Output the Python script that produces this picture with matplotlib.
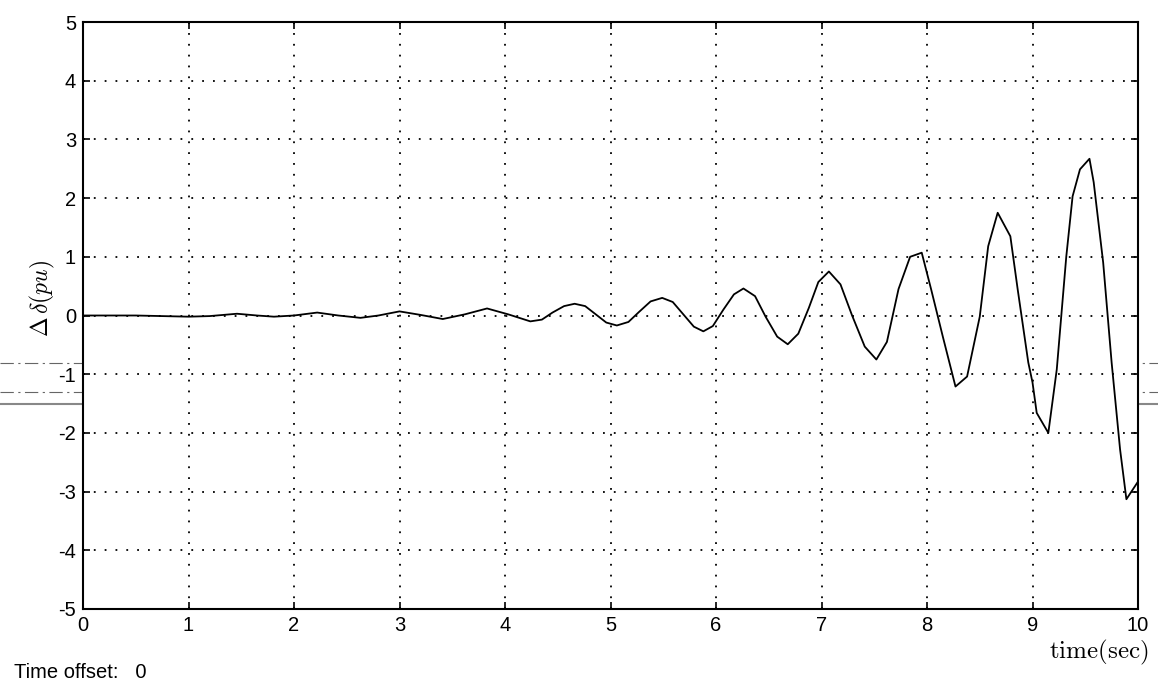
import matplotlib
matplotlib.use("Agg")
import matplotlib.pyplot as plt
from matplotlib.lines import Line2D

plt.rcParams["mathtext.fontset"] = "cm"

# ---- data ----
time_s = [0, 0.5, 1.0, 1.2, 1.46, 1.65, 1.81, 2.0, 2.22, 2.42, 2.63, 2.8, 3.0, 3.2,
          3.41, 3.62, 3.83, 4.03, 4.24, 4.35, 4.45, 4.56, 4.66, 4.76, 4.86, 4.96,
          5.06, 5.17, 5.27, 5.38, 5.49, 5.59, 5.69, 5.79, 5.88, 5.97, 6.07, 6.17,
          6.26, 6.37, 6.47, 6.58, 6.68, 6.78, 6.88, 6.97, 7.07, 7.18, 7.29, 7.41,
          7.52, 7.62, 7.73, 7.84, 7.95, 8.04, 8.15, 8.27, 8.38, 8.5, 8.58,
          8.67, 8.79, 8.86, 8.96, 9.0, 9.04, 9.15, 9.23, 9.32, 9.38, 9.45, 9.54,
          9.58, 9.67, 9.75, 9.83, 9.89, 10.0]
delta_pu = [0, 0, -0.02, -0.01, 0.03, 0.0, -0.02, 0.0, 0.05, 0.0, -0.04, 0.0, 0.07,
            0.01, -0.06, 0.02, 0.12, 0.02, -0.1, -0.07, 0.05, 0.16, 0.2, 0.16, 0.02,
            -0.12, -0.17, -0.11, 0.06, 0.24, 0.3, 0.23, 0.02, -0.19, -0.27, -0.18,
            0.1, 0.36, 0.46, 0.33, -0.02, -0.36, -0.49, -0.31, 0.13, 0.57, 0.75,
            0.53, 0.0, -0.53, -0.75, -0.45, 0.45, 1.0, 1.07, 0.44, -0.36, -1.21,
            -1.04, -0.02, 1.18, 1.75, 1.35, 0.44, -0.8, -1.14, -1.66, -2.0, -0.92,
            1.0, 2.03, 2.49, 2.67, 2.27, 0.9, -0.8, -2.28, -3.13, -2.83]
x_ticks = [0, 1, 2, 3, 4, 5, 6, 7, 8, 9, 10]
y_ticks = [-5, -4, -3, -2, -1, 0, 1, 2, 3, 4, 5]

W, H = 1158, 693
fig = plt.figure(figsize=(W / 100, H / 100), dpi=100)
fig.patch.set_facecolor("white")
ax = fig.add_axes([83 / W, 1 - 609 / H, (1138 - 83) / W, (609 - 22) / H])

ax.plot(time_s, delta_pu, color="black", lw=1.3, zorder=3)

ax.set_xlim(0, 10)
ax.set_ylim(-5, 5)
ax.set_xticks(x_ticks)
ax.set_yticks(y_ticks)
ax.set_xticklabels([str(v) for v in x_ticks])
ax.set_yticklabels([str(v) for v in y_ticks])
ax.grid(True, color="black", linestyle=(0, (1, 5)), lw=1.3)
ax.tick_params(direction="in", length=5, width=1.2, top=True, right=True,
               labelsize=14.5, pad=5)
for lab in ax.get_xticklabels() + ax.get_yticklabels():
    lab.set_fontfamily("Liberation Sans")
for s in ax.spines.values():
    s.set_linewidth(1.5)
    s.set_color("black")

fig.text(42 / W, 1 - 298 / H, r"$\Delta\,\delta(pu)$", rotation=90,
         ha="center", va="center", fontsize=17)
fig.text(1149 / W, 1 - 652 / H, r"$\mathrm{time(sec)}$", ha="right", va="center",
         fontsize=18)
fig.text(14 / W, 1 - 672 / H, "Time offset:   0", ha="left", va="center",
         fontsize=14.5, family="Liberation Sans")

# scan artifacts: horizontal gray line and faint dash-dot lines across the figure
fig.add_artist(Line2D([0, 1], [1 - 404 / H, 1 - 404 / H], transform=fig.transFigure,
                      color="#888888", lw=1.5, zorder=0))
for yy in (363, 392):
    fig.add_artist(Line2D([0, 1], [1 - yy / H, 1 - yy / H], transform=fig.transFigure,
                          color="#666666", lw=0.8, linestyle=(0, (12, 4, 2, 4)),
                          zorder=0))

fig.savefig("out.png", dpi=100, facecolor="white")
